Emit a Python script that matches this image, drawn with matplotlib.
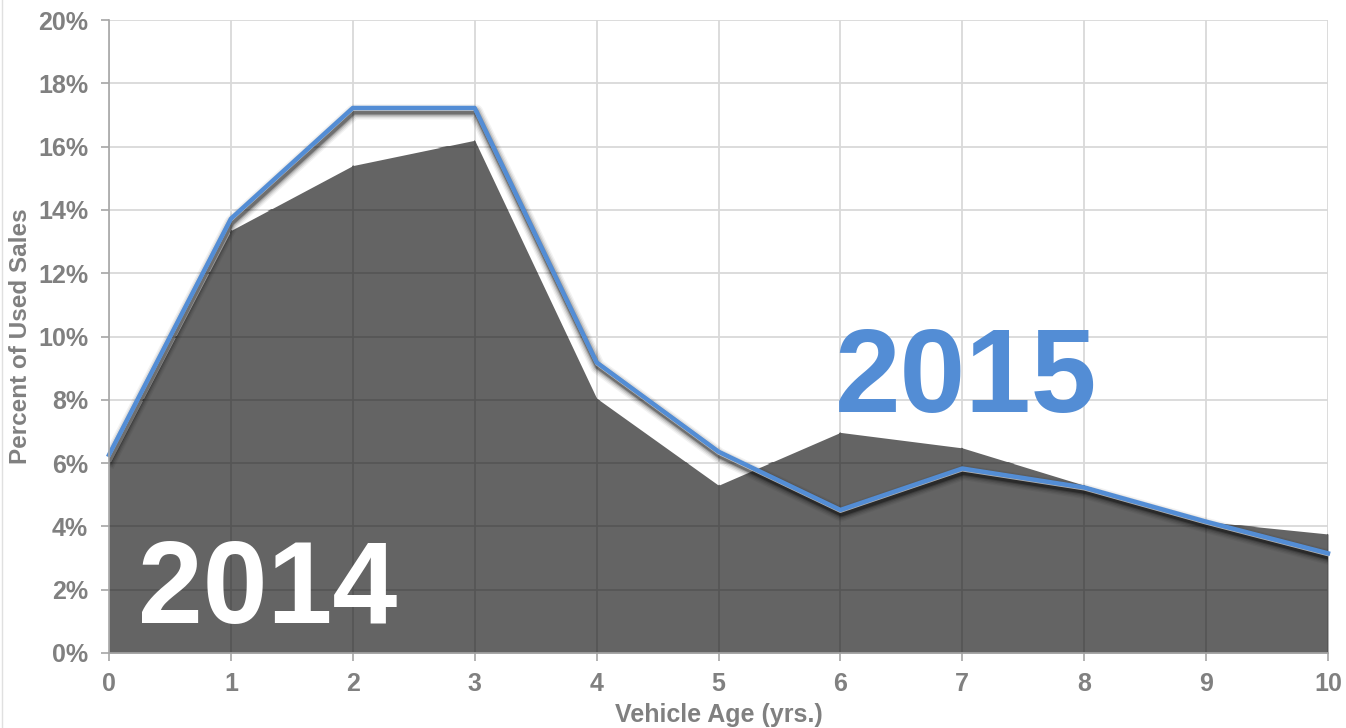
import numpy as np
import matplotlib
matplotlib.use("Agg")
from matplotlib import pyplot as plt
from matplotlib import transforms

plt.rcParams['font.family'] = ['Liberation Sans', 'DejaVu Sans']

age = [0, 1, 2, 3, 4, 5, 6, 7, 8, 9, 10]
sales_2014 = [5.95, 13.35, 15.4, 16.2, 8.05, 5.3, 6.97, 6.48, 5.3, 4.15, 3.76]
sales_2015 = [6.26, 13.72, 17.22, 17.22, 9.18, 6.36, 4.52, 5.83, 5.23, 4.15, 3.15]
yticks = [0, 2, 4, 6, 8, 10, 12, 14, 16, 18, 20]

grey_txt = "#808080"
fill_col = "#646464"
blue = "#538dd5"

fig = plt.figure(figsize=(13.46, 7.28), dpi=100)
ax = fig.add_axes([109/1346, 1 - 653/728, 1219/1346, 633/728])

ax.set_xlim(0, 10)
ax.set_ylim(0, 20)
ax.set_xticks(age)
ax.set_yticks(yticks)
ax.set_yticklabels([f"{v}%" for v in yticks])
ax.grid(True, color="#d9d9d9", lw=1.3, zorder=0)
ax.set_axisbelow(True)

poly = ax.fill_between(age, sales_2014, 0, color=fill_col, lw=0, zorder=1)

# darker gridlines showing through the filled area
clip = poly.get_paths()[0]
for v in yticks[1:]:
    ln, = ax.plot([0, 10], [v, v], color="#555555", lw=1.2, zorder=1.5)
    ln.set_clip_path(clip, ax.transData)
for a in age[1:]:
    ln, = ax.plot([a, a], [0, 20], color="#555555", lw=1.2, zorder=1.5)
    ln.set_clip_path(clip, ax.transData)

# soft shadow under the 2015 line
tr = transforms.offset_copy(ax.transData, fig=fig, x=1, y=-4, units='dots')
for w, al in [(11, 0.05), (9, 0.08), (7, 0.12), (5, 0.18), (3.5, 0.3)]:
    ax.plot(age, sales_2015, color="black", lw=w, alpha=al, transform=tr,
            solid_joinstyle='round', zorder=2)
tr2 = transforms.offset_copy(ax.transData, fig=fig, x=0, y=-2, units='dots')
ax.plot(age, sales_2015, color="#e8e8e8", lw=1.5, alpha=0.7, transform=tr2, zorder=2.5)
ax.plot(age, sales_2015, color=blue, lw=3.2, zorder=3, clip_on=False)

for s in ["top", "right"]:
    ax.spines[s].set_visible(False)
for s in ["left", "bottom"]:
    ax.spines[s].set_color("#a6a6a6")
    ax.spines[s].set_linewidth(1.2)
    ax.spines[s].set_zorder(4)

ax.tick_params(axis='both', colors="#a6a6a6", length=6, width=1.2,
               labelcolor=grey_txt, labelsize=18)
ax.tick_params(axis='y', pad=9)
ax.tick_params(axis='x', pad=8)
for t in ax.get_xticklabels() + ax.get_yticklabels():
    t.set_fontweight('bold')

ax.set_ylabel("Percent of Used Sales", color=grey_txt, fontsize=17.5,
              fontweight='bold', labelpad=4)
ax.set_xlabel("Vehicle Age (yrs.)", color=grey_txt, fontsize=18,
              fontweight='bold', labelpad=5)

ax.text(1.3, 0.95, "2014", color="white", fontsize=84, fontweight='bold',
        ha='center', va='baseline', zorder=5)
ax.text(7.03, 7.6, "2015", color=blue, fontsize=85, fontweight='bold',
        ha='center', va='baseline', zorder=5)

fig.add_artist(plt.Line2D([2/1346, 2/1346], [0, 1], color="#e0e0e0", lw=1))

plt.savefig("out.png", dpi=100)
plt.close()
